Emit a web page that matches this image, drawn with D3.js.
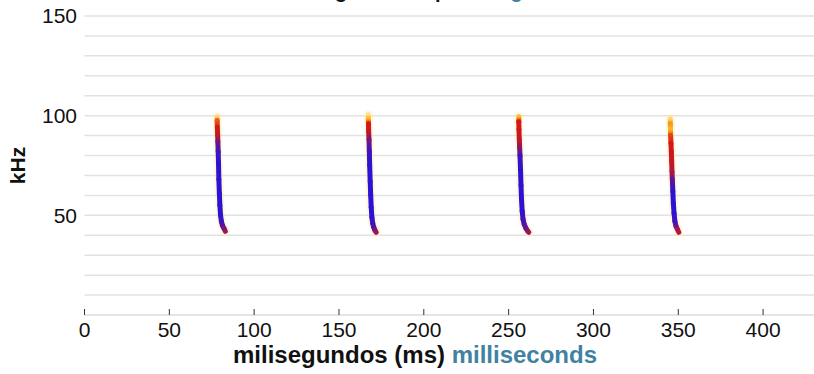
<!DOCTYPE html>
<html>
<head>
<meta charset="utf-8">
<script src="https://cdn.jsdelivr.net/npm/d3@7"></script>
<style>
    body { margin: 0; background: #fff; }
    svg { display: block; font-family: "Liberation Sans", Arial, Helvetica, sans-serif; }
</style>
</head>
<body>
<div class="container"></div>
<script>
let width = 814;
let height = 374;

// ticks
const xTicks = [0, 50, 100, 150, 200, 250, 300, 350, 400];
const yTicks = [50, 100, 150];
const yGrid = [10, 20, 30, 40, 50, 60, 70, 80, 90, 100, 110, 120, 130, 140, 150];

// each call: [ms, kHz, level]  (level 0 = faint, 1 = strongest)
const call1 = [
    [78.2, 99.5, 0.15], [78.2, 97.5, 0.45], [78.3, 94, 0.55], [78.5, 90, 0.6],
    [78.6, 87, 0.8], [78.8, 82, 0.95], [79.0, 76, 1], [79.2, 68, 1],
    [79.5, 61, 1], [79.8, 55, 1], [80.2, 50, 1], [80.7, 47, 0.95],
    [81.3, 45, 0.9], [82.2, 43.5, 0.8], [83.0, 42, 0.7]
];
const call2 = [
    [167.3, 100.5, 0.1], [167.3, 98.5, 0.3], [167.4, 96, 0.55], [167.5, 92, 0.6],
    [167.7, 88, 0.8], [167.9, 82, 0.95], [168.1, 75, 1], [168.4, 67, 1],
    [168.7, 60, 1], [169.0, 54, 1], [169.4, 49, 1], [169.9, 46, 0.95],
    [170.5, 44, 0.9], [171.2, 42.5, 0.8], [171.9, 41.5, 0.7]
];
const call3 = [
    [256.0, 99.5, 0.3], [256.0, 97, 0.55], [256.1, 93, 0.58], [256.3, 88, 0.6],
    [256.5, 84, 0.75], [256.7, 80, 0.95], [257.0, 73, 1], [257.3, 65, 1],
    [257.6, 58, 1], [258.0, 52, 1], [258.5, 48, 0.95], [259.2, 45.5, 0.9],
    [260.2, 43.5, 0.85], [261.3, 42, 0.75], [261.9, 41.5, 0.7]
];
const call4 = [
    [345.3, 98.5, 0.15], [345.3, 96, 0.35], [345.4, 93, 0.3], [345.5, 90, 0.48],
    [345.7, 86, 0.55], [345.9, 82, 0.58], [346.1, 77, 0.6], [346.3, 72, 0.65],
    [346.5, 68, 0.85], [346.8, 62, 1], [347.1, 56, 1], [347.5, 51, 1],
    [348.0, 47, 0.95], [348.7, 44.5, 0.85], [349.5, 43, 0.7], [350.3, 41.5, 0.62]
];
const calls = [call1, call2, call3, call4];

const titleEs = 'Sonograma del pulso';
const titleEn = 'signal';
const xLabelEs = 'milisegundos (ms)';
const xLabelEn = 'milliseconds';
const yLabel = 'kHz';

const blue = '#3f82a2';

const svg = d3.select('.container')
    .append('svg')
    .attr('width', width)
    .attr('height', height);

let x = d3.scaleLinear().domain([0, 430]).range([84.5, 814]);
let y = d3.scaleLinear().domain([0, 150]).range([315, 16]);

let color = d3.scaleLinear()
    .domain([0, 0.3, 0.55, 1])
    .range(['#fff4c0', '#ffb820', '#d81810', '#2c12d6'])
    .clamp(true);

//Title (sits above the frame, only descenders show)
let title = svg.append('text')
    .attr('x', 0)
    .attr('y', -2.5)
    .style('font-size', '20px')
    .style('font-weight', 'bold');
title.append('tspan').attr('fill', '#111').text(titleEs + ' ');
title.append('tspan').attr('fill', blue).text(titleEn);
// line the first "g" up with where the reference shows it
let gPos = title.node().getStartPositionOfChar(4).x;
let gW = title.node().getExtentOfChar(4).width;
title.attr('x', 341 - gPos - gW / 2);

//Grid
svg.append('g')
    .selectAll('line')
    .data(yGrid)
    .enter()
    .append('line')
    .attr('x1', x(0))
    .attr('x2', width)
    .attr('y1', d => y(d))
    .attr('y2', d => y(d))
    .attr('stroke', '#e2e2e2')
    .attr('stroke-width', 1.5);

//x axis line
svg.append('line')
    .attr('x1', x(0))
    .attr('x2', width)
    .attr('y1', y(0))
    .attr('y2', y(0))
    .attr('stroke', '#dcdcdc')
    .attr('stroke-width', 1.5);

//x ticks
let xt = svg.append('g')
    .selectAll('g')
    .data(xTicks)
    .enter()
    .append('g')
    .attr('transform', d => 'translate(' + x(d) + ',0)');

xt.append('line')
    .attr('y1', y(0) - 6)
    .attr('y2', y(0))
    .attr('stroke', '#333')
    .attr('stroke-width', 1);

xt.append('text')
    .attr('y', y(0) + 22)
    .attr('text-anchor', 'middle')
    .attr('fill', '#111')
    .style('font-size', '21px')
    .text(d => d);

//y labels
svg.append('g')
    .selectAll('text')
    .data(yTicks)
    .enter()
    .append('text')
    .attr('x', 77)
    .attr('y', d => y(d))
    .attr('dy', '0.35em')
    .attr('text-anchor', 'end')
    .attr('fill', '#111')
    .style('font-size', '21px')
    .text(d => d);

//Axis titles
let xl = svg.append('text')
    .attr('x', 415)
    .attr('y', 363)
    .attr('text-anchor', 'middle')
    .style('font-size', '24px')
    .style('font-weight', 'bold');
xl.append('tspan').attr('fill', '#111').text(xLabelEs + ' ');
xl.append('tspan').attr('fill', blue).text(xLabelEn);

svg.append('text')
    .attr('transform', 'translate(25,' + ((y(0) + y(150)) / 2) + ') rotate(-90)')
    .attr('text-anchor', 'middle')
    .attr('fill', '#111')
    .style('font-size', '21px')
    .style('font-weight', 'bold')
    .text(yLabel);

//Calls
let defs = svg.append('defs');
let line = d3.line().x(d => x(d[0])).y(d => y(d[1])).curve(d3.curveCatmullRom);

calls.forEach((c, ci) => {
    let g = svg.append('g');

    //faint glow
    g.append('path')
        .attr('d', line(c))
        .attr('fill', 'none')
        .attr('stroke', '#ffe79a')
        .attr('stroke-opacity', 0.35)
        .attr('stroke-width', 9)
        .attr('stroke-linecap', 'round');

    for (let i = 0; i < c.length - 1; i++) {
        let a = c[i];
        let b = c[i + 1];
        let id = 'grad' + ci + '_' + i;
        let grad = defs.append('linearGradient')
            .attr('id', id)
            .attr('gradientUnits', 'userSpaceOnUse')
            .attr('x1', x(a[0])).attr('y1', y(a[1]))
            .attr('x2', x(b[0])).attr('y2', y(b[1]));
        grad.append('stop').attr('offset', '0%').attr('stop-color', color(a[2]));
        grad.append('stop').attr('offset', '100%').attr('stop-color', color(b[2]));

        g.append('line')
            .attr('x1', x(a[0])).attr('y1', y(a[1]))
            .attr('x2', x(b[0])).attr('y2', y(b[1]))
            .attr('stroke', 'url(#' + id + ')')
            .attr('stroke-width', 5)
            .attr('stroke-linecap', 'round');
    }
});
</script>
</body>
</html>
